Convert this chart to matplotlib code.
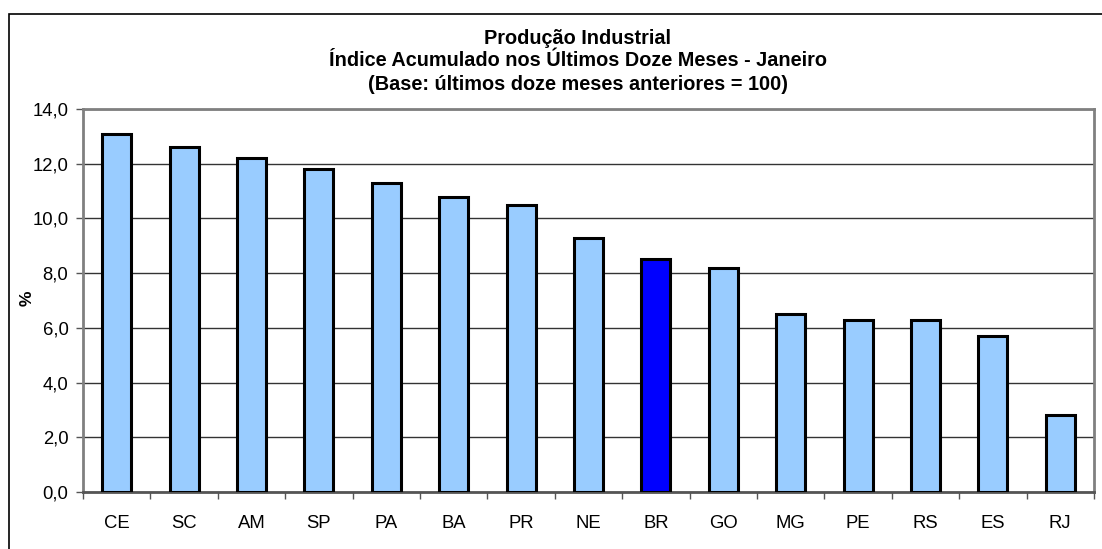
import matplotlib.pyplot as plt
from matplotlib.patches import Rectangle
from matplotlib.ticker import FuncFormatter, FixedLocator, NullFormatter

plt.rcParams['font.family'] = ['Liberation Sans', 'DejaVu Sans']

# Data
estados = ['CE', 'SC', 'AM', 'SP', 'PA', 'BA', 'PR', 'NE', 'BR', 'GO', 'MG', 'PE', 'RS', 'ES', 'RJ']
valores = [13.1, 12.6, 12.2, 11.8, 11.3, 10.8, 10.5, 9.3, 8.5, 8.2, 6.5, 6.3, 6.3, 5.7, 2.8]
destaque = 'BR'
titulo = ['Produção Industrial',
          'Índice Acumulado nos Últimos Doze Meses - Janeiro',
          '(Base: últimos doze meses anteriores = 100)']

cores = ['#0000ff' if e == destaque else '#99ccff' for e in estados]
x = list(range(len(estados)))

fig = plt.figure(figsize=(11.02, 5.49), dpi=100)
ax = fig.add_axes([0.0753, 0.1038, 0.9174, 0.6977])

# outer chart frame (runs off the right/bottom edge like the original)
fig.patches.append(Rectangle((9 / 1102, -0.05), 1.1, 1 - 14 / 549 + 0.05,
                             transform=fig.transFigure, fill=False,
                             edgecolor='black', linewidth=1.2))

ax.bar(x, valores, width=0.43, color=cores, edgecolor='black', linewidth=2.2, zorder=3)

ax.set_xlim(-0.5, len(estados) - 0.5)
ax.set_ylim(0, 14)
ax.set_yticks([0, 2, 4, 6, 8, 10, 12, 14])
ax.yaxis.set_major_formatter(FuncFormatter(lambda v, p: f'{v:.1f}'.replace('.', ',')))
ax.grid(axis='y', color='#333333', linewidth=1, zorder=0)

ax.set_xticks(x)
ax.set_xticklabels(estados)
ax.tick_params(axis='x', which='major', length=0, pad=16.5, labelsize=13.3)
ax.xaxis.set_minor_locator(FixedLocator([i - 0.5 for i in range(len(estados) + 1)]))
ax.xaxis.set_minor_formatter(NullFormatter())
ax.tick_params(axis='x', which='minor', length=5, width=1, color='#555555')
ax.tick_params(axis='y', length=5, width=1, color='#555555', labelsize=13.3, pad=5.5)

for s in ax.spines.values():
    s.set_color('#808080')
    s.set_linewidth(2)
ax.spines['bottom'].set_color('#555555')

fig.text(27 / 1102, 1 - 298 / 549, '%', rotation=90, ha='center', va='center',
         fontweight='bold', fontsize=12.5)

for linha, ypix in zip(titulo, [38, 61, 85]):
    fig.text(578 / 1102, 1 - ypix / 549, linha, ha='center', va='center',
             fontweight='bold', fontsize=14.3)

fig.savefig('out.png', dpi=100)
